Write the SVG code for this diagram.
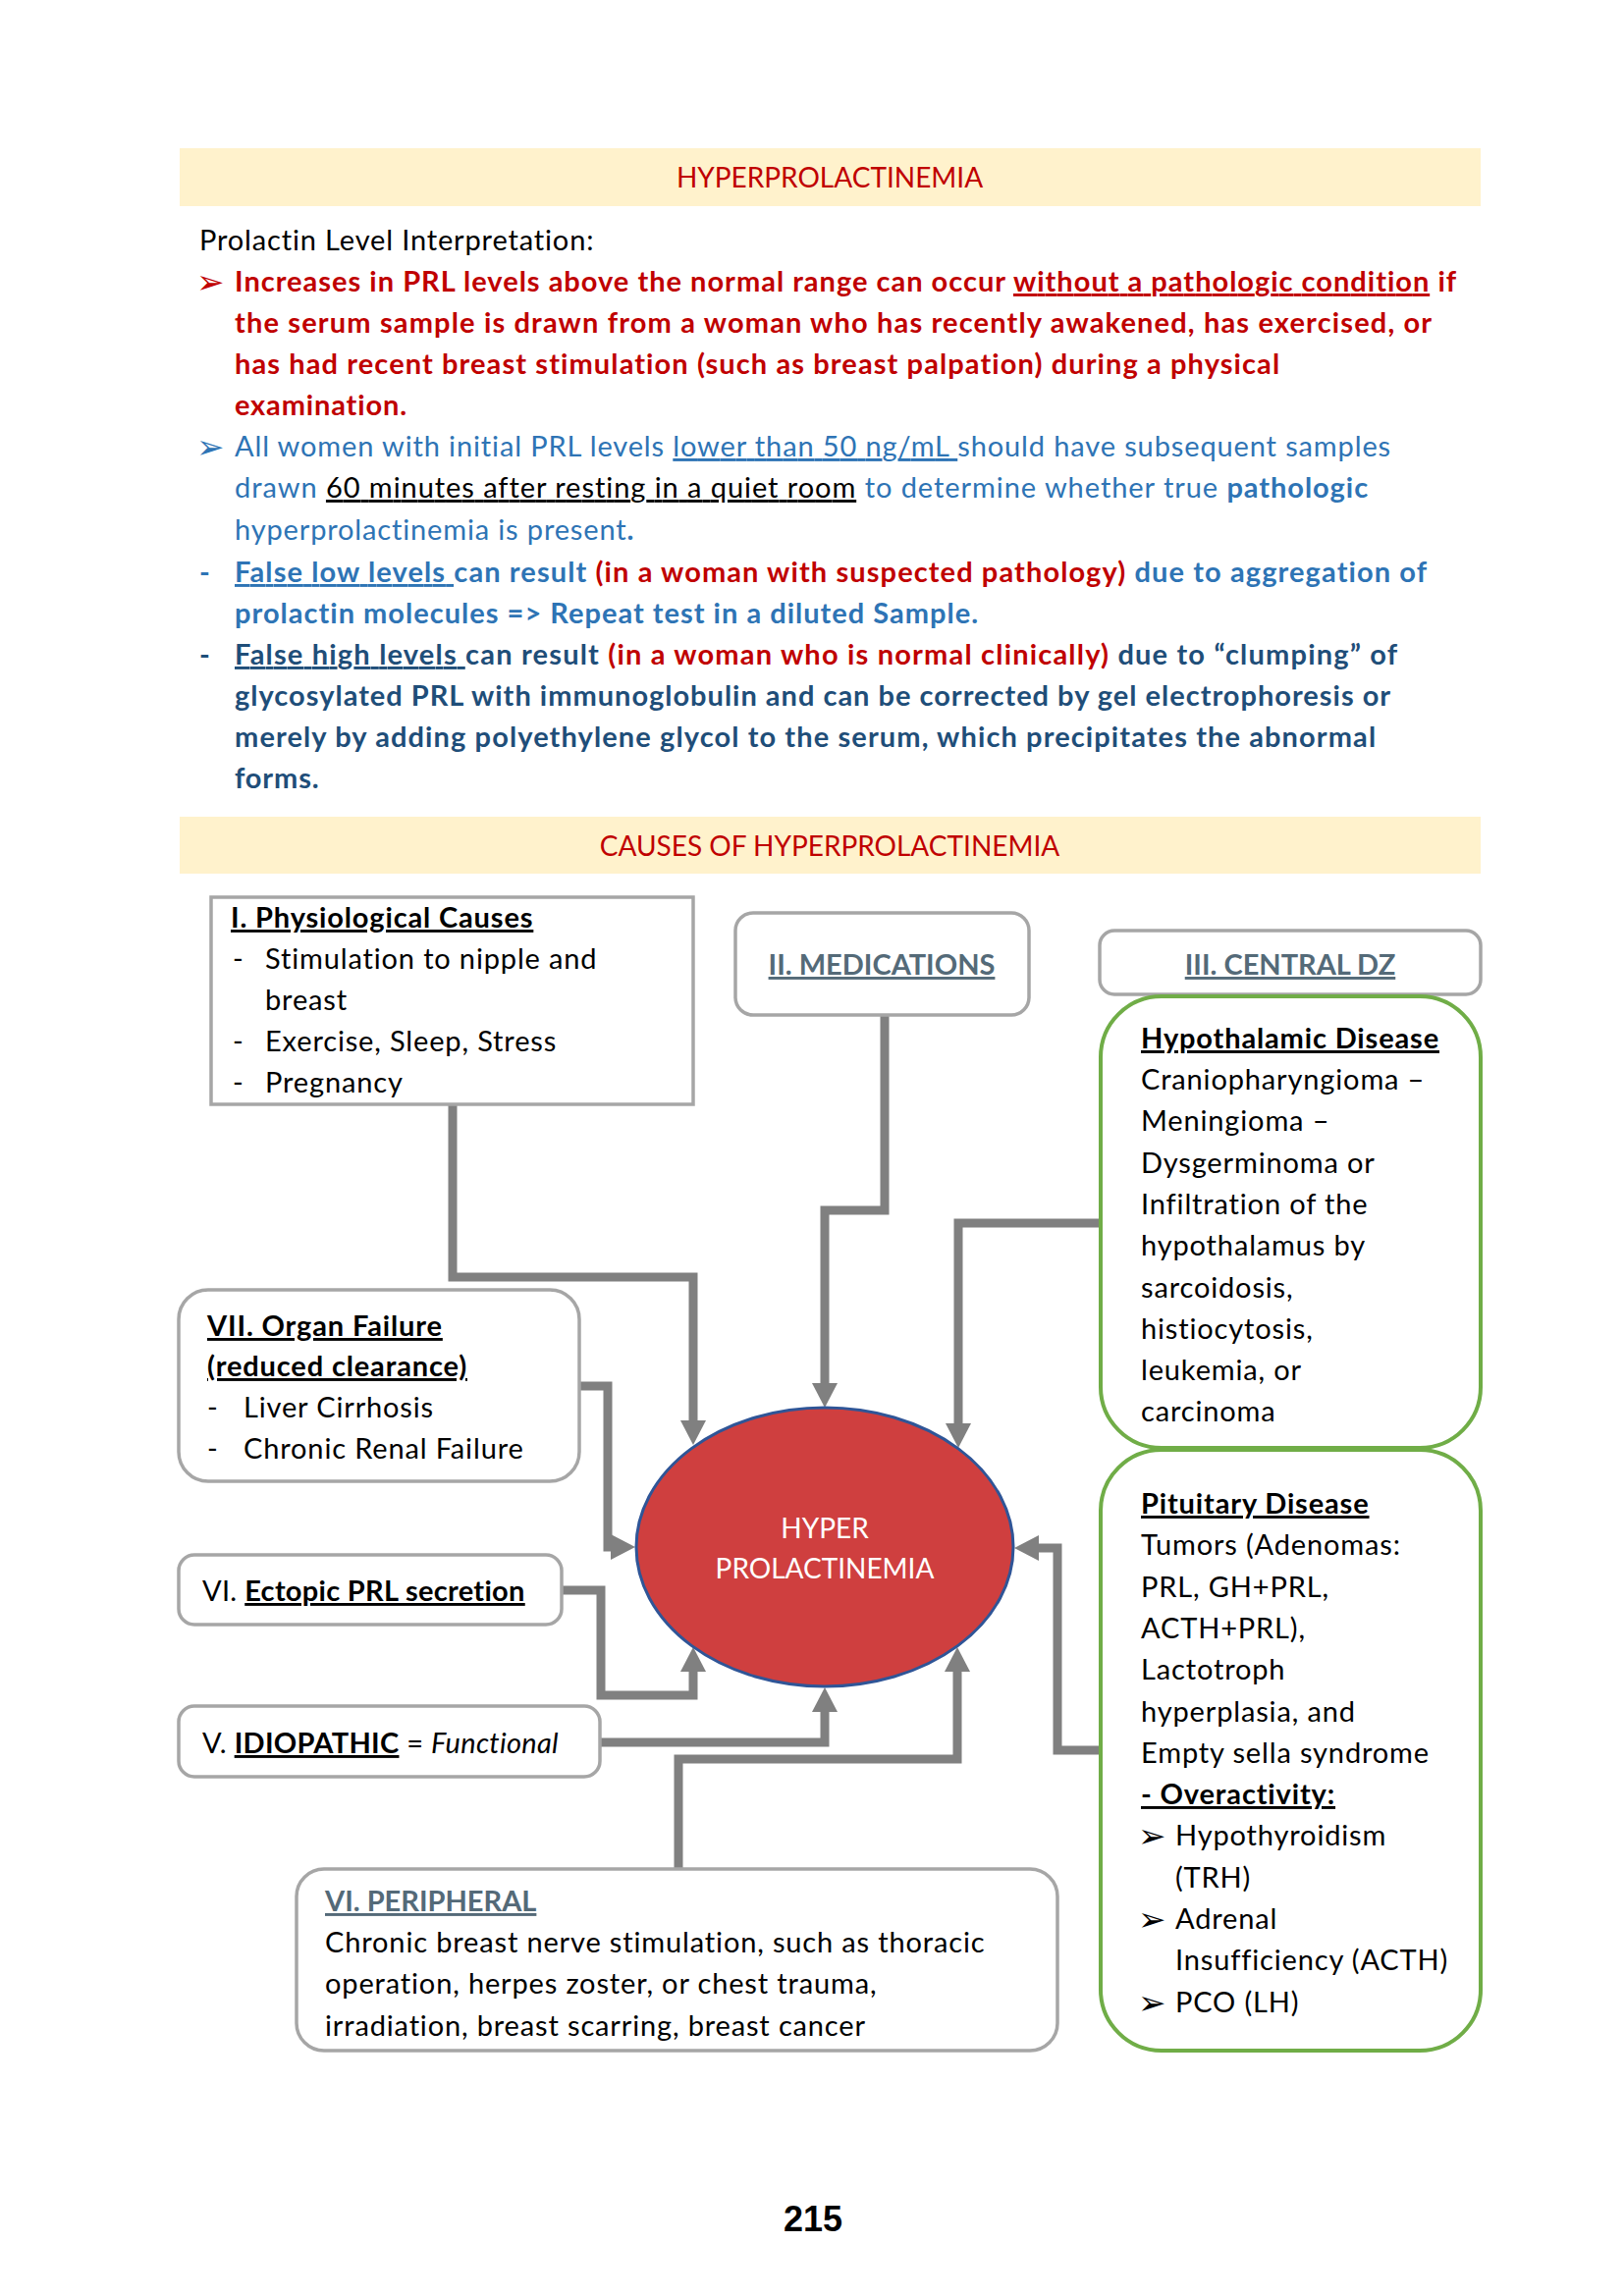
<svg xmlns="http://www.w3.org/2000/svg" width="1654" height="2339" viewBox="0 0 1654 2339">
<style>
text{font-family:Lato,"Open Sans","Liberation Sans",sans-serif;font-size:29px;letter-spacing:0.85px;fill:#000}
.hdr{font-size:28px;letter-spacing:0}
.cap{font-size:29px;letter-spacing:0}
.tight{letter-spacing:0.3px}
.b{font-weight:bold}
.u{text-decoration:underline}
.i{font-style:italic}
.red{fill:#C00000}
.blu{fill:#2E74B5}
.dblu{fill:#1F4E79}
.slate{fill:#546A78}
.wht{fill:#fff}
.sym{font-family:"DejaVu Sans",sans-serif;font-size:34px;letter-spacing:0}
.mid{text-anchor:middle}
.band{fill:#FFF2CC}
.box{fill:#fff;stroke:#A6A6A6;stroke-width:3.5}
.gbox{fill:#fff;stroke:#70AD47;stroke-width:4}
.conn{fill:none;stroke:#808080;stroke-width:9;stroke-linejoin:miter;marker-end:url(#ah)}
</style>
<defs>
<marker id="ah" viewBox="0 0 25 26" refX="5" refY="13" markerWidth="25" markerHeight="26" markerUnits="userSpaceOnUse" orient="auto">
<path d="M0,0 L25,13 L0,26 z" fill="#808080"/>
</marker>
</defs>
<rect width="1654" height="2339" fill="#fff"/>

<g id="header1">
<rect class="band" x="183" y="151" width="1325" height="59"/>
<text class="hdr red mid" x="845" y="191">HYPERPROLACTINEMIA</text>
</g>

<g id="interpretation">
<text x="203" y="255">Prolactin Level Interpretation:</text>
<text class="sym red" x="200" y="299">➢</text>
<text class="b red" x="239" y="297" textLength="1245">Increases in PRL levels above the normal range can occur <tspan class="u">without a pathologic condition</tspan> if</text>
<text class="b red" x="239" y="339" textLength="1220">the serum sample is drawn from a woman who has recently awakened, has exercised, or</text>
<text class="b red" x="239" y="381" textLength="1065">has had recent breast stimulation (such as breast palpation) during a physical</text>
<text class="b red" x="239" y="423">examination.</text>

<text class="sym blu" x="200" y="467">➢</text>
<text class="blu" x="239" y="465" textLength="1178">All women with initial PRL levels <tspan class="u">lower than 50 ng/mL </tspan>should have subsequent samples</text>
<text class="blu" x="239" y="507" textLength="1155">drawn <tspan class="u" style="fill:#000">60 minutes after resting in a quiet room</tspan> to determine whether true <tspan class="b">pathologic</tspan></text>
<text class="blu" x="239" y="550">hyperprolactinemia is present<tspan class="b">.</tspan></text>

<text class="b blu" x="203" y="593">-</text>
<text class="b blu" x="239" y="593" textLength="1215"><tspan class="u">False low levels </tspan>can result <tspan class="red">(in a woman with suspected pathology)</tspan> due to aggregation of</text>
<text class="b blu" x="239" y="635" textLength="758">prolactin molecules =&gt; Repeat test in a diluted Sample.</text>

<text class="b dblu" x="203" y="677">-</text>
<text class="b dblu" x="239" y="677" textLength="1185"><tspan class="u">False high levels </tspan>can result <tspan class="red">(in a woman who is normal clinically)</tspan> due to “clumping” of</text>
<text class="b dblu" x="239" y="719" textLength="1178">glycosylated PRL with immunoglobulin and can be corrected by gel electrophoresis or</text>
<text class="b dblu" x="239" y="761" textLength="1163">merely by adding polyethylene glycol to the serum, which precipitates the abnormal</text>
<text class="b dblu" x="239" y="803">forms.</text>
</g>

<g id="header2">
<rect class="band" x="183" y="832" width="1325" height="58"/>
<text class="hdr red mid" x="845" y="872">CAUSES OF HYPERPROLACTINEMIA</text>
</g>

<g id="connectors">
<path class="conn" d="M461 1125 V1301 H706 V1452"/>
<path class="conn" d="M901 1034 V1233 H840 V1414"/>
<path class="conn" d="M1120 1246 H976 V1455"/>
<path class="conn" d="M590 1412 H619 V1576 H627"/>
<path class="conn" d="M572 1620 H612 V1727 H706 V1698"/>
<path class="conn" d="M611 1775 H840 V1739"/>
<path class="conn" d="M691 1904 V1792 H975 V1698"/>
<path class="conn" d="M1120 1783 H1077 V1577 H1053"/>
</g>

<g id="physiological">
<rect class="box" x="215" y="914" width="491" height="211"/>
<text class="b u" x="235" y="945">I. Physiological Causes</text>
<text x="237" y="987">-</text><text x="270" y="987">Stimulation to nipple and</text>
<text x="270" y="1029">breast</text>
<text x="237" y="1071">-</text><text x="270" y="1071">Exercise, Sleep, Stress</text>
<text x="237" y="1113">-</text><text x="270" y="1113">Pregnancy</text>
</g>

<g id="medications">
<rect class="box" x="749" y="930" width="299" height="104" rx="18"/>
<text class="cap b u slate mid" x="898" y="993">II. MEDICATIONS</text>
</g>

<g id="central">
<rect class="box" x="1120" y="948" width="388" height="65" rx="15"/>
<text class="cap b u slate mid" x="1314" y="993">III. CENTRAL DZ</text>
</g>

<g id="hypothalamic">
<rect class="gbox" x="1121" y="1015" width="387" height="460" rx="62"/>
<text class="b u" x="1162" y="1068">Hypothalamic Disease</text>
<text x="1162" y="1110">Craniopharyngioma –</text>
<text x="1162" y="1152">Meningioma –</text>
<text x="1162" y="1195">Dysgerminoma or</text>
<text x="1162" y="1237">Infiltration of the</text>
<text x="1162" y="1279">hypothalamus by</text>
<text x="1162" y="1322">sarcoidosis,</text>
<text x="1162" y="1364">histiocytosis,</text>
<text x="1162" y="1406">leukemia, or</text>
<text x="1162" y="1448">carcinoma</text>
</g>

<g id="pituitary">
<rect class="gbox" x="1121" y="1477" width="387" height="612" rx="62"/>
<text class="b u" x="1162" y="1542">Pituitary Disease</text>
<text x="1162" y="1584">Tumors (Adenomas:</text>
<text x="1162" y="1627">PRL, GH+PRL,</text>
<text x="1162" y="1669">ACTH+PRL),</text>
<text x="1162" y="1711">Lactotroph</text>
<text x="1162" y="1754">hyperplasia, and</text>
<text x="1162" y="1796">Empty sella syndrome</text>
<text class="b u" x="1162" y="1838">- Overactivity:</text>
<text class="sym" x="1159" y="1882">➢</text><text x="1197" y="1880">Hypothyroidism</text>
<text x="1197" y="1923">(TRH)</text>
<text class="sym" x="1159" y="1967">➢</text><text x="1197" y="1965">Adrenal</text>
<text x="1197" y="2007">Insufficiency (ACTH)</text>
<text class="sym" x="1159" y="2052">➢</text><text x="1197" y="2050">PCO (LH)</text>
</g>

<g id="organ-failure">
<rect class="box" x="182" y="1314" width="408" height="195" rx="30"/>
<text class="b u" x="211" y="1361">VII. Organ Failure</text>
<text class="b u" x="211" y="1402">(reduced clearance)</text>
<text x="211" y="1444">-</text><text x="248" y="1444">Liver Cirrhosis</text>
<text x="211" y="1486">-</text><text x="248" y="1486">Chronic Renal Failure</text>
</g>

<g id="ectopic">
<rect class="box" x="182" y="1584" width="390" height="71" rx="16"/>
<text class="tight" x="206" y="1631">VI. <tspan class="b u">Ectopic PRL secretion</tspan></text>
</g>

<g id="idiopathic">
<rect class="box" x="182" y="1738" width="429" height="72" rx="16"/>
<text class="tight" x="206" y="1786">V. <tspan class="b u">IDIOPATHIC</tspan> = <tspan class="i">Functional</tspan></text>
</g>

<g id="peripheral">
<rect class="box" x="302" y="1904" width="775" height="185" rx="28"/>
<text class="cap b u slate" x="331" y="1947">VI. PERIPHERAL</text>
<text x="331" y="1989">Chronic breast nerve stimulation, such as thoracic</text>
<text x="331" y="2031">operation, herpes zoster, or chest trauma,</text>
<text x="331" y="2074">irradiation, breast scarring, breast cancer</text>
</g>

<g id="hyperprolactinemia">
<ellipse cx="840" cy="1576" rx="192" ry="142" fill="#CF3F3F" stroke="#2F5597" stroke-width="3"/>
<text class="hdr wht mid" x="840" y="1567">HYPER</text>
<text class="hdr wht mid" x="840" y="1608">PROLACTINEMIA</text>
</g>

<g id="page-number">
<text class="b mid" x="828" y="2273" style="font-family:'Liberation Sans',Arial,sans-serif;font-size:36px;letter-spacing:0">215</text>
</g>
</svg>
